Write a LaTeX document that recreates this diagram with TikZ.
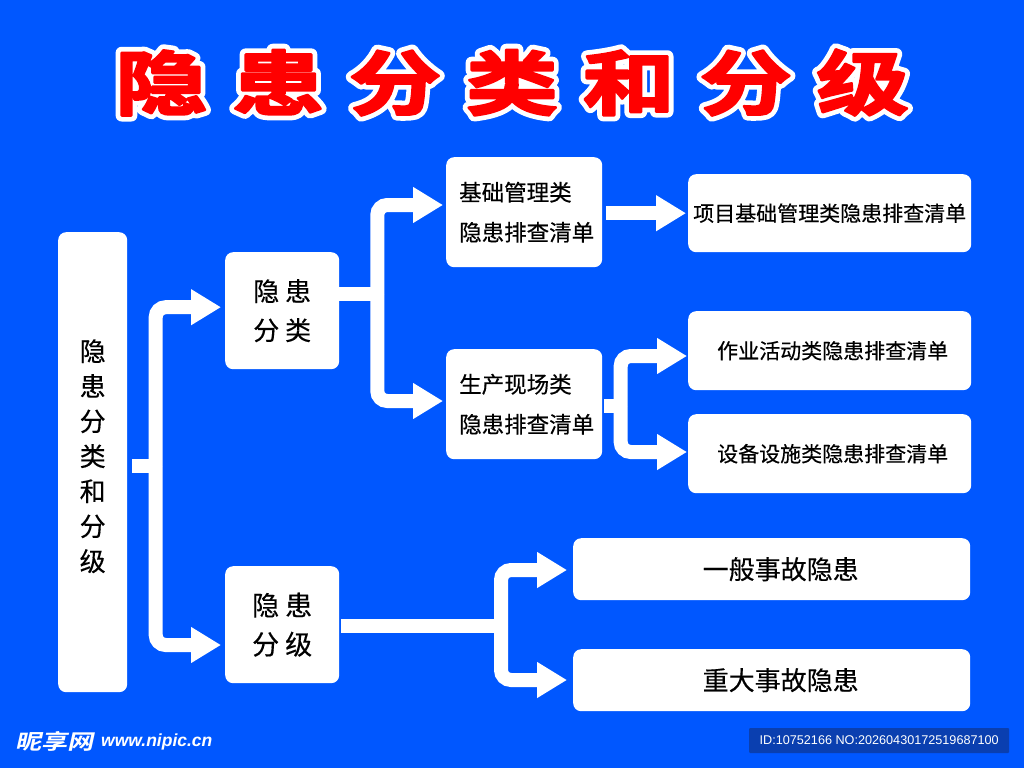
\documentclass[tikz,border=0pt]{standalone}
\usepackage{fontspec}
\usepackage{xcolor}
\usetikzlibrary{arrows.meta}
\setmainfont[FakeBold=0.4]{Noto Sans CJK SC}
\newfontfamily\titlefont[LetterSpace=35,FakeStretch=1.32]{Noto Sans CJK SC Bold}
\newfontfamily\logofont[FakeSlant=0.22,FakeStretch=1.25]{Noto Sans CJK SC Bold}
\newfontfamily\markfont{Liberation Sans}
\definecolor{boardblue}{HTML}{0057FF}
\definecolor{idblue}{HTML}{0A3FB0}
% text drawn with a round-joined outline of the given width
\newcommand{\outlined}[2]{\special{pdf:code 2 Tr #1 w 1 j 1 J}#2\special{pdf:code 0 Tr 1 w 0 j 0 J}}
\tikzset{
	main node/.style={draw=none, fill=white, rounded corners=8pt, text=black, align=center, inner sep=0pt, anchor=north west},
	flow/.style={draw=white, line width=14pt, rounded corners=10pt, -{Triangle[length=30pt,width=34pt]}, shorten >=4pt},
	stem/.style={draw=white, line width=14pt},
	title node/.style={font=\titlefont\fontsize{70}{70}\selectfont}
}
\begin{document}
\begin{tikzpicture}[x=1pt,y=-1pt]
	\fill[boardblue] (0,0) rectangle (1024,768);
	\useasboundingbox (0,0) rectangle (1024,768);

	% title
	\node[title node, white] (titleback) at (512,82.5) {\outlined{12}{隐患分类和分级}};
	\node[title node, red] (title) at (512,82.5) {\outlined{2.5}{隐患分类和分级}};

	% boxes
	\node[main node, minimum width=69pt, minimum height=460pt, font=\fontsize{26}{35}\selectfont] (bar) at (58,232) {隐\\患\\分\\类\\和\\分\\级\\[-21pt]\mbox{}};
	\node[main node, minimum width=114pt, minimum height=117pt, font=\fontsize{26}{39}\selectfont] (fenlei) at (225,252) {隐 患\\分 类};
	\node[main node, minimum width=114pt, minimum height=117pt, font=\fontsize{27}{39}\selectfont] (fenji) at (225,566) {\raisebox{-2pt}{隐 患}\\\raisebox{-2pt}{分 级}};
	\node[main node, minimum width=156pt, minimum height=110pt, font=\fontsize{22.5}{40}\selectfont, align=left] (jichu) at (446,157) {\hspace*{5pt}基础管理类\\\hspace*{5pt}隐患排查清单};
	\node[main node, minimum width=156pt, minimum height=110pt, font=\fontsize{22.5}{40}\selectfont, align=left] (shengchan) at (446,349) {\hspace*{5pt}生产现场类\\\hspace*{5pt}隐患排查清单};
	\node[main node, minimum width=283pt, minimum height=78pt, font=\fontsize{21}{25}\selectfont] (xiangmu) at (688,174) {项目基础管理类隐患排查清单};
	\node[main node, minimum width=283pt, minimum height=79pt, font=\fontsize{21}{25}\selectfont] (zuoye) at (688,311) {\hspace*{6pt}作业活动类隐患排查清单};
	\node[main node, minimum width=283pt, minimum height=79pt, font=\fontsize{21}{25}\selectfont] (shebei) at (688,414) {\hspace*{6pt}设备设施类隐患排查清单};
	\node[main node, minimum width=397pt, minimum height=62pt, font=\fontsize{26}{30}\selectfont] (yiban) at (573,538) {\hspace*{18pt}一般事故隐患};
	\node[main node, minimum width=397pt, minimum height=62pt, font=\fontsize{26}{30}\selectfont] (zhongda) at (573,649) {\hspace*{18pt}\raisebox{-1.5pt}{重大事故隐患}};

	% branch points
	\coordinate (fork1) at (155.7,466);
	\coordinate (fork2) at (377.3,294);
	\coordinate (fork3) at (620.7,406);
	\coordinate (fork4) at (501,626);

	% connectors
	\draw[stem, shorten <=5pt] (bar.east |- fork1) -- (fork1);
	\draw[flow] (fork1) |- ([yshift=3.5pt]fenlei.west);
	\draw[flow] (fork1) |- (fenji.west |- 0,645);
	\draw[stem] (fenlei.east |- fork2) -- (fork2);
	\draw[flow, shorten >=3pt] (fork2) |- (jichu.west |- 0,205);
	\draw[flow, shorten >=3pt] (fork2) |- (shengchan.west |- 0,401);
	\draw[flow, shorten <=3.5pt, shorten >=2pt] (jichu.east |- xiangmu.west) -- (xiangmu.west);
	\draw[stem, shorten <=2pt] (shengchan.east |- fork3) -- (fork3);
	\draw[flow, shorten >=1pt] (fork3) |- (zuoye.west |- 0,356);
	\draw[flow, shorten >=1pt] (fork3) |- (shebei.west |- 0,452);
	\draw[stem, shorten <=2pt] (fenji.east |- fork4) -- (fork4);
	\draw[flow, shorten >=6pt] (fork4) |- (yiban.west |- 0,570);
	\draw[flow, shorten >=6pt] (fork4) |- (zhongda.west |- 0,680);

	% marks
	\node[white, font=\logofont\fontsize{21}{22}\selectfont, inner sep=0pt, anchor=west] (logo) at (15,741) {昵享网};
	\node[white, font=\markfont\bfseries\itshape\fontsize{17.5}{18}\selectfont, inner sep=0pt, anchor=west] (site) at (101,742) {www.nipic.cn};
	\node[fill=idblue, rounded corners=1pt, text=white, font=\markfont\fontsize{12.65}{13}\selectfont, minimum width=260pt, minimum height=25pt, inner sep=0pt, anchor=west] (idtag) at (749,740.5) {ID:10752166 NO:20260430172519687100};
\end{tikzpicture}
\end{document}
